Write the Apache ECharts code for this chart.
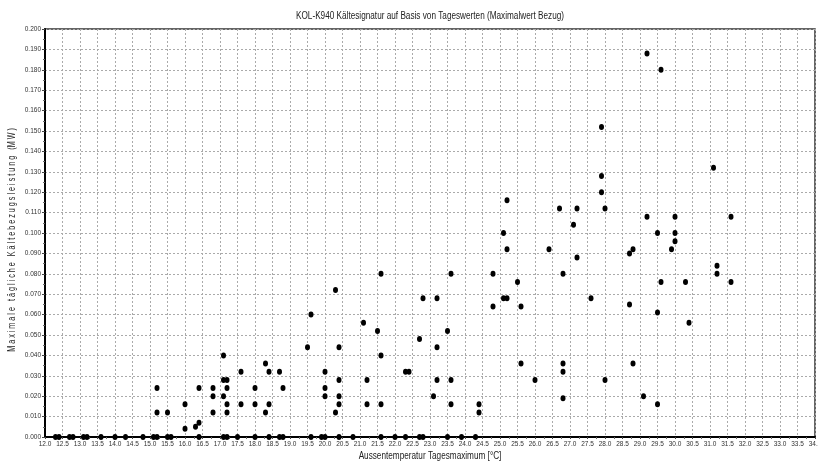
<!DOCTYPE html>
<html>
<head>
<meta charset="utf-8">
<script src="https://cdn.jsdelivr.net/npm/echarts@6/dist/echarts.min.js"></script>
<style>html,body{margin:0;padding:0;background:#fff;}#c{width:818px;height:469px;}</style>
</head>
<body>
<div id="c"></div>
<script>
// Data: outdoor daily max temperature [°C] and daily max cooling demand [MW]
const temps = [
  12.3,12.4,12.7,12.8,13.1,13.2,13.6,14.0,14.3,14.8,15.1,15.2,15.5,15.6,16.4,17.1,17.2,17.5,18.0,18.4,18.7,18.8,19.6,19.9,20.0,20.4,20.8,21.6,22.0,22.3,22.7,22.8,23.5,23.9,24.3,
  15.2,15.2,15.5,16.0,16.0,16.3,16.4,16.4,16.8,16.8,16.8,17.1,17.1,17.1,17.2,17.2,17.2,17.2,17.6,17.6,18.0,18.0,18.3,18.3,18.4,18.4,18.7,18.8,19.5,19.6,
  20.0,20.0,20.0,20.3,20.3,20.4,20.4,20.4,20.4,21.1,21.2,21.2,21.5,21.6,21.6,21.6,22.3,22.4,22.7,22.8,23.1,23.2,23.2,23.2,23.5,23.6,23.6,23.6,24.4,24.4,
  24.8,24.8,25.1,25.1,25.2,25.2,25.2,25.5,25.6,25.6,26.0,26.4,26.7,26.8,26.8,26.8,26.8,27.1,27.2,27.2,27.6,27.9,27.9,27.9,28.0,28.0,
  28.7,28.7,28.8,28.8,29.1,29.2,29.2,29.5,29.5,29.5,29.6,29.6,29.9,30.0,30.0,30.0,30.3,30.4,31.1,31.2,31.2,31.6,31.6
];
const loads = [
  0,0,0,0,0,0,0,0,0,0,0,0,0,0,0,0,0,0,0,0,0,0,0,0,0,0,0,0,0,0,0,0,0,0,0,
  0.024,0.012,0.012,0.016,0.004,0.005,0.007,0.024,0.024,0.020,0.012,0.040,0.028,0.020,0.028,0.024,0.016,0.012,0.032,0.016,0.024,0.016,0.036,0.012,0.032,0.016,0.032,0.024,0.044,0.060,
  0.032,0.024,0.020,0.072,0.012,0.044,0.028,0.020,0.016,0.056,0.028,0.016,0.052,0.080,0.040,0.016,0.032,0.032,0.048,0.068,0.020,0.068,0.044,0.028,0.052,0.080,0.028,0.016,0.016,0.012,
  0.080,0.064,0.100,0.068,0.116,0.092,0.068,0.076,0.064,0.036,0.028,0.092,0.112,0.080,0.036,0.032,0.019,0.104,0.112,0.088,0.068,0.152,0.128,0.120,0.112,0.028,
  0.090,0.065,0.092,0.036,0.020,0.188,0.108,0.100,0.061,0.016,0.180,0.076,0.092,0.108,0.100,0.096,0.076,0.056,0.132,0.084,0.080,0.108,0.076
];
const titleText = 'KOL-K940 Kältesignatur auf Basis von Tageswerten (Maximalwert Bezug)';
const xName = 'Aussentemperatur Tagesmaximum [°C]';
const yName = 'M a x i m a l e   t ä g l i c h e   K ä l t e b e z u g s l e i s t u n g   (M W )';

const points = temps.map((t, i) => [t, loads[i]]);
const FONT = "'Liberation Sans', Arial, sans-serif";

const chart = echarts.init(document.getElementById('c'), null, {renderer: 'canvas'});
chart.setOption({
  animation: false,
  backgroundColor: '#fff',
  graphic: [
    {type: 'text', x: 430, y: 16, scaleX: 0.82,
      style: {text: titleText, fontFamily: FONT, fontSize: 10, fill: '#222', align: 'center', verticalAlign: 'middle'}},
    {type: 'text', x: 430, y: 456, scaleX: 0.82,
      style: {text: xName, fontFamily: FONT, fontSize: 10, fill: '#222', align: 'center', verticalAlign: 'middle'}},
    {type: 'text', x: 12, y: 240, rotation: Math.PI / 2, scaleX: 0.72,
      style: {text: yName, fontFamily: FONT, fontSize: 10, fill: '#222', align: 'center', verticalAlign: 'middle'}}
  ],
  grid: {
    left: 45, right: 3, top: 29, bottom: 32,
    outerBoundsMode: 'none', containLabel: false,
    show: true, borderColor: '#333', borderWidth: 1.5, backgroundColor: 'transparent'
  },
  xAxis: {
    type: 'value', min: 12, max: 34, interval: 0.5,
    axisLine: {show: true, onZero: false, lineStyle: {color: '#000', width: 2}},
    axisTick: {show: true, length: 2, lineStyle: {color: '#444'}},
    minorTick: {show: true, splitNumber: 2, length: 2, lineStyle: {color: '#666'}},
    axisLabel: {fontFamily: FONT, fontSize: 6.5, color: '#333', margin: 4,
      formatter: v => v.toFixed(1)},
    splitLine: {show: true, lineStyle: {color: '#aaa', width: 1, type: [2, 2]}}
  },
  yAxis: {
    type: 'value', min: 0, max: 0.2, interval: 0.01,
    axisLine: {show: true, onZero: false, lineStyle: {color: '#000', width: 2}},
    axisTick: {show: true, length: 3, lineStyle: {color: '#444'}},
    minorTick: {show: true, splitNumber: 2, length: 2, lineStyle: {color: '#666'}},
    axisLabel: {fontFamily: FONT, fontSize: 6.5, color: '#333', margin: 4,
      formatter: v => v.toFixed(3)},
    splitLine: {show: true, lineStyle: {color: '#aaa', width: 1, type: [2, 2]}}
  },
  series: [{
    type: 'scatter',
    data: points,
    symbol: 'circle',
    symbolSize: [5, 6],
    clip: false,
    itemStyle: {color: '#000', opacity: 1}
  }]
});
</script>
</body>
</html>
